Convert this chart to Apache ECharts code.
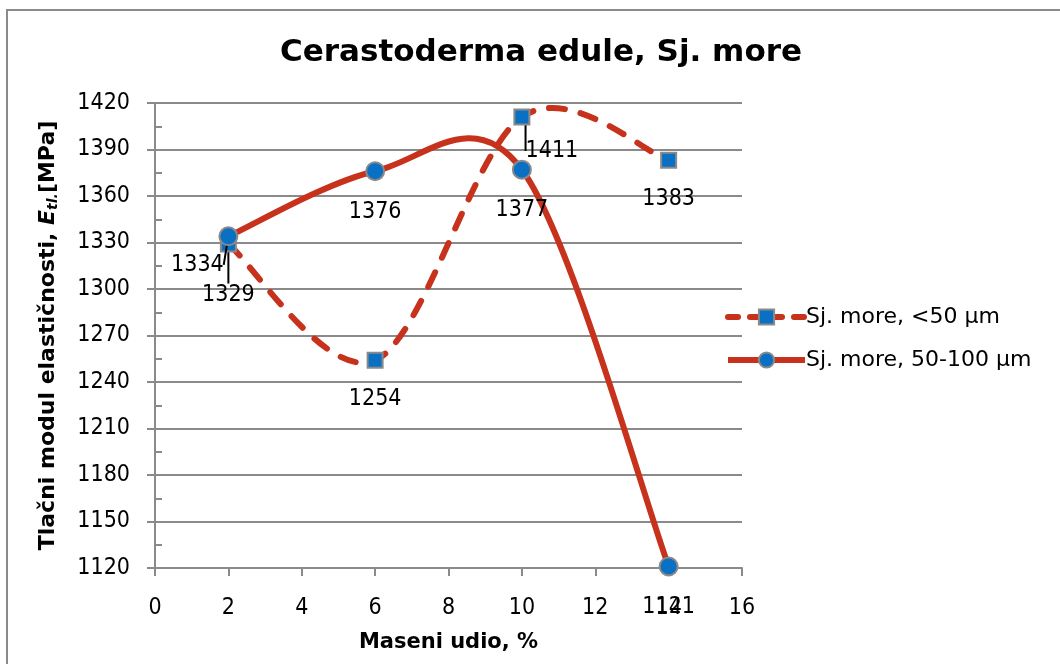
<!DOCTYPE html>
<html>
<head>
<meta charset="utf-8">
<title>Cerastoderma edule, Sj. more</title>
<script src="https://cdn.jsdelivr.net/npm/echarts@6/dist/echarts.min.js"></script>
<style>
  html, body { margin: 0; padding: 0; background: #fff; }
  #chart { width: 1060px; height: 664px; }
</style>
</head>
<body>
<div id="chart"></div>
<script>
// Mass fraction (%) on the x axis
const massFraction = [2, 6, 10, 14];
// Compressive modulus of elasticity (MPa) for each particle size fraction
const fineValues = [1329, 1254, 1411, 1383];    // Sj. more, <50 µm
const coarseValues = [1334, 1376, 1377, 1121];  // Sj. more, 50-100 µm
const seriesNames = ['Sj. more, <50 µm', 'Sj. more, 50-100 µm'];
const yTicks = { min: 1120, max: 1420, step: 30 };
const xTicks = { min: 0, max: 16, step: 2 };

const NUM_FONT = "'DejaVu Sans Condensed', 'DejaVu Sans', sans-serif";
const TXT_FONT = "'DejaVu Sans', sans-serif";
const RED = '#c7321d';
const BLUE = '#0a70c4';
const GREY = '#8a8a8a';

function pairs(xs, ys) { return xs.map((x, i) => [x, ys[i]]); }

// labels nudged away from crowded points, with a leader line back to the marker
const labelShift = {
  '0-0': { dx: 0, dy: 12 },
  '0-2': { dx: 30, dy: -5 },
  '1-0': { dx: -31, dy: -12 }
};

function markerData(seriesIdx, ys) {
  return massFraction.map((x, i) => {
    const moved = !!labelShift[seriesIdx + '-' + i];
    return { value: [x, ys[i]], labelLine: { show: moved } };
  });
}

// Smooth curve through the points: cubic Bézier segments whose control
// points follow the neighbouring points (Catmull-Rom style, 1/6 tension)
function curveRenderer(ys) {
  return function (params, api) {
    if (params.dataIndex !== 0) return null;
    const p = massFraction.map((x, i) => api.coord([x, ys[i]]));
    const n = p.length;
    let d = 'M' + p[0][0] + ' ' + p[0][1];
    for (let i = 0; i < n - 1; i++) {
      const p0 = p[Math.max(i - 1, 0)];
      const p1 = p[i];
      const p2 = p[i + 1];
      const p3 = p[Math.min(i + 2, n - 1)];
      const c1x = p1[0] + (p2[0] - p0[0]) / 6;
      const c1y = p1[1] + (p2[1] - p0[1]) / 6;
      const c2x = p2[0] - (p3[0] - p1[0]) / 6;
      const c2y = p2[1] - (p3[1] - p1[1]) / 6;
      d += ' C' + c1x + ' ' + c1y + ' ' + c2x + ' ' + c2y + ' ' + p2[0] + ' ' + p2[1];
    }
    return { type: 'path', shape: { pathData: d }, style: api.style() };
  };
}

const chart = echarts.init(document.getElementById('chart'), null, { renderer: 'canvas' });

const labelStyle = {
  show: true,
  position: 'bottom',
  distance: 19,
  fontFamily: NUM_FONT,
  fontSize: 23,
  color: '#000'
};

const plainNumber = v => String(v);

chart.setOption({
  animation: false,
  backgroundColor: '#fff',
  title: {
    text: 'Cerastoderma edule, Sj. more',
    left: 536,
    textAlign: 'center',
    top: 32,
    textStyle: { fontFamily: TXT_FONT, fontSize: 31, fontWeight: 'bold', color: '#000' }
  },
  grid: { left: 155, right: 318, top: 103, bottom: 96, containLabel: false },
  legend: {
    orient: 'vertical',
    left: 720,
    top: 301,
    itemWidth: 77,
    itemHeight: 19,
    itemGap: 21,
    textStyle: { fontFamily: TXT_FONT, fontSize: 22, color: '#000', padding: [0, 0, 0, -4] },
    data: [
      { name: seriesNames[0], lineStyle: { color: RED, width: 6, opacity: 1, type: [10, 12], cap: 'round' } },
      { name: seriesNames[1], lineStyle: { color: RED, width: 6, opacity: 1, type: 'solid' } }
    ]
  },
  xAxis: {
    type: 'value',
    min: xTicks.min,
    max: xTicks.max,
    interval: xTicks.step,
    name: 'Maseni udio, %',
    nameLocation: 'middle',
    nameGap: 64,
    nameTextStyle: { fontFamily: TXT_FONT, fontSize: 21, fontWeight: 'bold', color: '#000' },
    axisLine: { lineStyle: { color: GREY, width: 2 } },
    axisTick: { show: true, length: 8, lineStyle: { color: GREY, width: 2 } },
    axisLabel: { fontFamily: NUM_FONT, fontSize: 23, color: '#000', margin: 29, formatter: plainNumber },
    splitLine: { show: false }
  },
  yAxis: [
    {
      type: 'value',
      min: yTicks.min,
      max: yTicks.max,
      interval: yTicks.step,
      name: 'Tlačni modul elastičnosti, {it|E}{sub|tl.}[MPa]',
      nameLocation: 'middle',
      nameRotate: 90,
      nameGap: 95,
      nameTextStyle: {
        fontFamily: TXT_FONT, fontSize: 22, fontWeight: 'bold', color: '#000',
        rich: {
          it: { fontFamily: TXT_FONT, fontSize: 22, fontWeight: 'bold', fontStyle: 'italic', color: '#000' },
          sub: { fontFamily: TXT_FONT, fontSize: 14, fontWeight: 'bold', fontStyle: 'italic', color: '#000', padding: [9, 0, 0, 0] }
        }
      },
      axisLine: { show: true, lineStyle: { color: GREY, width: 2 } },
      axisTick: { show: true, length: 8, lineStyle: { color: GREY, width: 2 } },
      axisLabel: { fontFamily: NUM_FONT, fontSize: 23, color: '#000', margin: 25, formatter: plainNumber },
      splitLine: { show: true, lineStyle: { color: GREY, width: 2 } }
    },
    {
      // minor ticks pointing into the plot
      type: 'value',
      position: 'left',
      min: yTicks.min,
      max: yTicks.max,
      interval: yTicks.step / 2,
      axisLine: { show: false },
      axisTick: { show: true, inside: true, length: 7, lineStyle: { color: GREY, width: 2 } },
      axisLabel: { show: false },
      splitLine: { show: false }
    }
  ],
  series: [
    {
      id: 'fine-curve',
      type: 'custom',
      coordinateSystem: 'cartesian2d',
      data: pairs(massFraction, fineValues),
      renderItem: curveRenderer(fineValues),
      itemStyle: { color: 'none', borderColor: RED, borderWidth: 6, borderType: [16, 16], borderCap: 'round' },
      silent: true,
      z: 2
    },
    {
      id: 'coarse-curve',
      type: 'custom',
      coordinateSystem: 'cartesian2d',
      data: pairs(massFraction, coarseValues),
      renderItem: curveRenderer(coarseValues),
      itemStyle: { color: 'none', borderColor: RED, borderWidth: 6, borderCap: 'round' },
      silent: true,
      z: 2
    },
    {
      name: seriesNames[0],
      type: 'line',
      data: markerData(0, fineValues),
      symbol: 'rect',
      symbolSize: 15,
      lineStyle: { color: RED, width: 6, opacity: 0 },
      itemStyle: { color: BLUE, borderColor: GREY, borderWidth: 2 },
      label: labelStyle,
      labelLine: { show: false, lineStyle: { color: '#000', width: 2 } },
      labelLayout: p => labelShift['0-' + p.dataIndex] || {},
      z: 3
    },
    {
      name: seriesNames[1],
      type: 'line',
      data: markerData(1, coarseValues),
      symbol: 'circle',
      symbolSize: 18,
      lineStyle: { color: RED, width: 6, opacity: 0 },
      itemStyle: { color: BLUE, borderColor: GREY, borderWidth: 2 },
      label: labelStyle,
      labelLine: { show: false, lineStyle: { color: '#000', width: 2 } },
      labelLayout: p => labelShift['1-' + p.dataIndex] || {},
      z: 4
    }
  ],
  graphic: [
    {
      type: 'rect',
      shape: { x: 7, y: 10, width: 1100, height: 700 },
      style: { fill: 'none', stroke: GREY, lineWidth: 2 },
      silent: true
    }
  ]
});
</script>
</body>
</html>
